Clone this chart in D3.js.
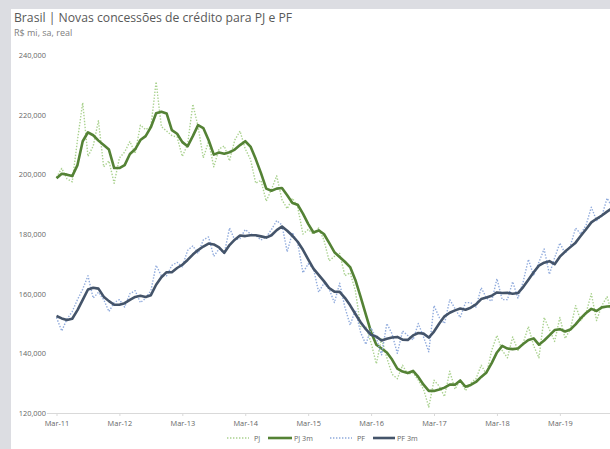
<!DOCTYPE html>
<html>
<head>
<meta charset="utf-8">
<script src="https://cdn.jsdelivr.net/npm/d3@7/dist/d3.min.js"></script>
<style>
  html, body { margin: 0; padding: 0; background: #dcdde2; }
  svg { display: block; }
  text { font-family: "Open Sans", "Noto Sans", sans-serif; }
</style>
</head>
<body>
<svg id="chart" width="610" height="449"></svg>
<script>
// monthly values, R$ thousand mi -> stored in R$ mi, first point = Mar-11
var monthLabels = ["Mar-11", "Mar-12", "Mar-13", "Mar-14", "Mar-15", "Mar-16", "Mar-17", "Mar-18", "Mar-19"];
var yTicks = [120000, 140000, 160000, 180000, 200000, 220000, 240000];

var pj = [199, 202, 198.5, 197.5, 211.5, 224, 206, 209.5, 218, 202.5, 204.5, 197, 205.5, 207.5, 211, 207,
  216.5, 215, 216, 231, 216, 214.5, 213, 212.5, 206, 210, 223.5, 216, 205.5, 211, 202.5, 208.5, 209.5,
  204.5, 211.5, 214.5, 208.5, 205, 197, 198, 191, 195, 199.5, 191.5, 188.5, 192, 189, 180, 181.5, 180,
  182, 178, 171, 172.5, 173.5, 166, 167, 161, 149, 149, 143.5, 136.5, 145, 138.5, 133, 131.5, 136, 133,
  133.5, 131, 128, 122, 131, 129, 125.5, 134, 128, 131, 127.5, 130, 131.5, 136, 133, 141, 146, 141,
  138.5, 145.5, 141, 143.5, 149, 142.5, 138.5, 152, 148, 144, 152, 145, 148, 156, 151, 153.5, 160, 151,
  156, 159, 153];

var pj3m = [198.7, 200.2, 199.9, 199.4, 203.1, 211.1, 214.1, 213.1, 211.3, 209.8, 208.3, 202.1, 202.1,
  203.1, 206.8, 208.4, 211.5, 212.8, 215.8, 220.5, 221.0, 220.4, 214.8, 213.6, 210.8, 209.4, 212.8,
  216.5, 215.5, 211.5, 206.6, 207.3, 206.9, 207.4, 208.3, 209.8, 211.1, 209.3, 205.1, 200.4, 195.2,
  194.5, 195.2, 195.4, 193.0, 190.4, 189.8, 186.8, 183.4, 180.5, 181.2, 180.0, 177.0, 173.9, 172.3,
  170.7, 168.9, 164.6, 158.9, 153.0, 147.1, 142.9, 141.6, 140.3, 137.9, 134.9, 133.9, 133.4, 134.1,
  132.1, 129.5, 127.4, 127.4, 127.9, 128.5, 129.5, 129.5, 130.9, 128.8, 129.4, 130.4, 132.1, 133.6,
  136.7, 140.3, 142.5, 141.6, 141.4, 141.6, 143.1, 144.5, 145.0, 142.9, 144.3, 146.0, 147.8, 148.1,
  147.3, 148.0, 149.7, 151.8, 153.5, 154.9, 154.2, 155.4, 155.7, 155.8];

var pf = [152, 147.5, 151.5, 154, 158, 161.5, 166, 158.5, 160.5, 158, 154, 157, 158, 155.5, 160, 161,
  157, 158.5, 161, 169.5, 166, 166, 169.5, 170.5, 169, 174.5, 176, 173.5, 178, 179, 172.5, 175, 173.5,
  182, 178, 178.5, 181.5, 180, 179.5, 178, 179, 181.5, 184.5, 183, 174, 180.5, 177, 167, 170, 168.5,
  160.5, 163.5, 161.5, 157, 163.5, 155.5, 149.5, 154.5, 147, 143, 148.5, 145, 139.5, 150, 146.5, 140,
  147.5, 146, 144.5, 150, 145.5, 140.5, 156, 152, 150, 158, 155, 152, 157, 157, 155.5, 162, 158.5,
  157.5, 165, 158, 158, 164, 158.5, 164, 171.5, 166, 170.5, 175, 166.5, 172, 177, 173.5, 176, 182, 180,
  183, 189, 184.5, 186, 192, 189];

var pf3m = [152.5, 151.7, 151.2, 151.6, 154.5, 157.9, 161.4, 162.0, 161.7, 159.0, 157.5, 156.3, 156.3,
  156.8, 157.9, 158.9, 159.3, 158.9, 159.5, 163.0, 165.5, 167.2, 167.2, 168.6, 169.7, 171.3, 173.1,
  174.6, 175.8, 176.8, 176.5, 175.5, 173.7, 176.3, 178.1, 179.5, 179.3, 179.6, 179.6, 179.2, 178.8,
  179.6, 181.3, 182.5, 181.1, 179.4, 177.4, 174.7, 171.5, 168.4, 166.3, 164.2, 161.9, 160.7, 160.6,
  158.6, 156.1, 153.2, 150.4, 148.1, 146.2, 145.6, 144.3, 144.9, 145.3, 145.5, 144.6, 144.5, 146.0,
  146.8, 146.6, 145.3, 147.3, 150.0, 152.4, 153.6, 154.4, 155.0, 154.6, 155.3, 156.4, 158.2, 158.7,
  159.3, 160.4, 160.2, 160.3, 160.0, 160.2, 162.2, 164.7, 167.2, 169.4, 170.4, 170.9, 169.9, 172.4,
  174.1, 175.6, 177.1, 179.4, 181.6, 183.9, 185.1, 186.2, 187.5, 188.7];

var seriesNames = ["PJ", "PJ 3m", "PF", "PF 3m"];

var svg = d3.select("#chart");

// white panel, the grey frame shows on the top and left edges
svg.append("rect").attr("x", 11).attr("y", 9).attr("width", 610).attr("height", 449).attr("fill", "#ffffff");

svg.append("text").attr("x", 14).attr("y", 22)
  .attr("font-size", "12.2px").attr("fill", "#595959")
  .text("Brasil | Novas concessões de crédito para PJ e PF");
svg.append("text").attr("x", 14).attr("y", 35.5)
  .attr("font-size", "9px").attr("fill", "#808080")
  .text("R$ mi, sa, real");

var x = d3.scaleLinear().domain([0, 106]).range([56.5, 612.3]);
var y = d3.scaleLinear().domain([120000, 240000]).range([413, 55]);

// y axis labels only
var yAxis = svg.append("g").attr("transform", "translate(46,0)")
  .call(d3.axisLeft(y).tickValues(yTicks).tickSize(0).tickPadding(0).tickFormat(d3.format(",")));
yAxis.select(".domain").remove();
yAxis.selectAll("text").attr("font-size", "7.4px").attr("fill", "#666666").attr("font-family", "Open Sans, sans-serif");

// x axis
var xAxis = svg.append("g").attr("transform", "translate(0,413)")
  .call(d3.axisBottom(x)
    .tickValues(monthLabels.map(function(d, i) { return i * 12; }))
    .tickSize(3).tickPadding(5)
    .tickFormat(function(d, i) { return monthLabels[i]; }));
xAxis.select(".domain").attr("stroke", "#d9d9d9").attr("d", "M47,0.5H612");
xAxis.selectAll(".tick line").attr("stroke", "#d9d9d9");
xAxis.selectAll("text").attr("font-size", "7.4px").attr("fill", "#666666").attr("font-family", "Open Sans, sans-serif");

var line = d3.line()
  .x(function(d, i) { return x(i); })
  .y(function(d) { return y(d * 1000); });

var styles = [
  { data: pj, color: "#a9d18e", width: 1.4, dash: "1.4,1.6" },
  { data: pj3m, color: "#548235", width: 2.6, dash: null },
  { data: pf, color: "#8faadc", width: 1.4, dash: "1.4,1.6" },
  { data: pf3m, color: "#44546a", width: 2.6, dash: null }
];

styles.forEach(function(s) {
  svg.append("path")
    .datum(s.data)
    .attr("d", line)
    .attr("fill", "none")
    .attr("stroke", s.color)
    .attr("stroke-width", s.width)
    .attr("stroke-linejoin", "round")
    .attr("stroke-dasharray", s.dash);
});

// legend
var legendX = [227, 268, 330, 373];
var legendW = [22, 24, 22, 22];
var legend = svg.append("g");
styles.forEach(function(s, i) {
  legend.append("line")
    .attr("x1", legendX[i]).attr("x2", legendX[i] + legendW[i])
    .attr("y1", 438).attr("y2", 438)
    .attr("stroke", s.color).attr("stroke-width", s.width)
    .attr("stroke-dasharray", s.dash);
  legend.append("text")
    .attr("x", legendX[i] + legendW[i] + (s.dash ? 5 : 2)).attr("y", 440.5)
    .attr("font-size", "7.2px").attr("fill", "#666666")
    .text(seriesNames[i]);
});
</script>
</body>
</html>
